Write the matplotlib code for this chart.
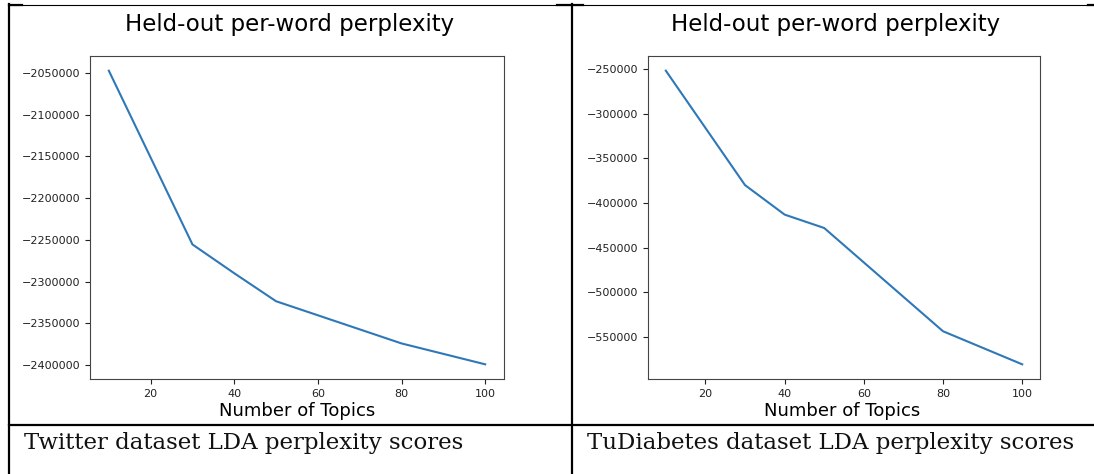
import matplotlib
matplotlib.use("Agg")
import matplotlib.pyplot as plt

# number of topics tried
topics = [10, 30, 40, 50, 80, 100]

# held-out per-word perplexity for each dataset
twitter_scores = [-2047500, -2255500, -2290000, -2323500, -2374000, -2399000]
tudiabetes_scores = [-252000, -380000, -413000, -428000, -543500, -580500]

twitter_yticks = [-2050000, -2100000, -2150000, -2200000, -2250000, -2300000, -2350000, -2400000]
tudiabetes_yticks = [-250000, -300000, -350000, -400000, -450000, -500000, -550000]
xticks = [20, 40, 60, 80, 100]

captions = ["Twitter dataset LDA perplexity scores", "TuDiabetes dataset LDA perplexity scores"]

W, H = 1094, 474
fig = plt.figure(figsize=(W / 100, H / 100), dpi=100)

# table frame drawn in pixel coordinates
bg = fig.add_axes([0, 0, 1, 1])
bg.set_xlim(0, W)
bg.set_ylim(H, 0)
bg.axis("off")
bg.plot([9, W], [4.5, 4.5], color="black", lw=0.8)
for x0, x1 in [(9, 22), (557, 583), (1088, W)]:
    bg.plot([x0, x1], [4.5, 4.5], color="black", lw=1.6)
bg.plot([9, 9], [4, H], color="black", lw=1.6)
bg.plot([572, 572], [4, H], color="black", lw=1.6)
bg.plot([9, W], [425, 425], color="black", lw=1.6)


def px_axes(left, top, right, bottom):
    return fig.add_axes([left / W, 1 - bottom / H, (right - left) / W, (bottom - top) / H])


panels = [
    (px_axes(90, 56, 504, 379), twitter_scores, twitter_yticks, 290, 297, 24),
    (px_axes(648, 56, 1040, 379), tudiabetes_scores, tudiabetes_yticks, 836, 842, 587),
]

for i, (ax, scores, yt, title_x, xlab_x, cap_x) in enumerate(panels):
    ax.plot(topics, scores, color="#2f78b8", lw=1.5)
    ax.set_xticks(xticks)
    ax.set_yticks(yt)
    ax.ticklabel_format(axis="y", style="plain", useOffset=False)
    ax.tick_params(labelsize=8, colors="#222222")
    for s in ax.spines.values():
        s.set_color("#444444")
    fig.text(title_x / W, 1 - 25 / H, "Held-out per-word perplexity",
             ha="center", va="center", fontsize=16.5)
    fig.text(xlab_x / W, 1 - 411 / H, "Number of Topics",
             ha="center", va="center", fontsize=13)
    fig.text(cap_x / W, 1 - 443 / H, captions[i], ha="left", va="center",
             fontsize=16.5, family="DejaVu Serif", color="#111111")

fig.savefig("out.png", dpi=100)
